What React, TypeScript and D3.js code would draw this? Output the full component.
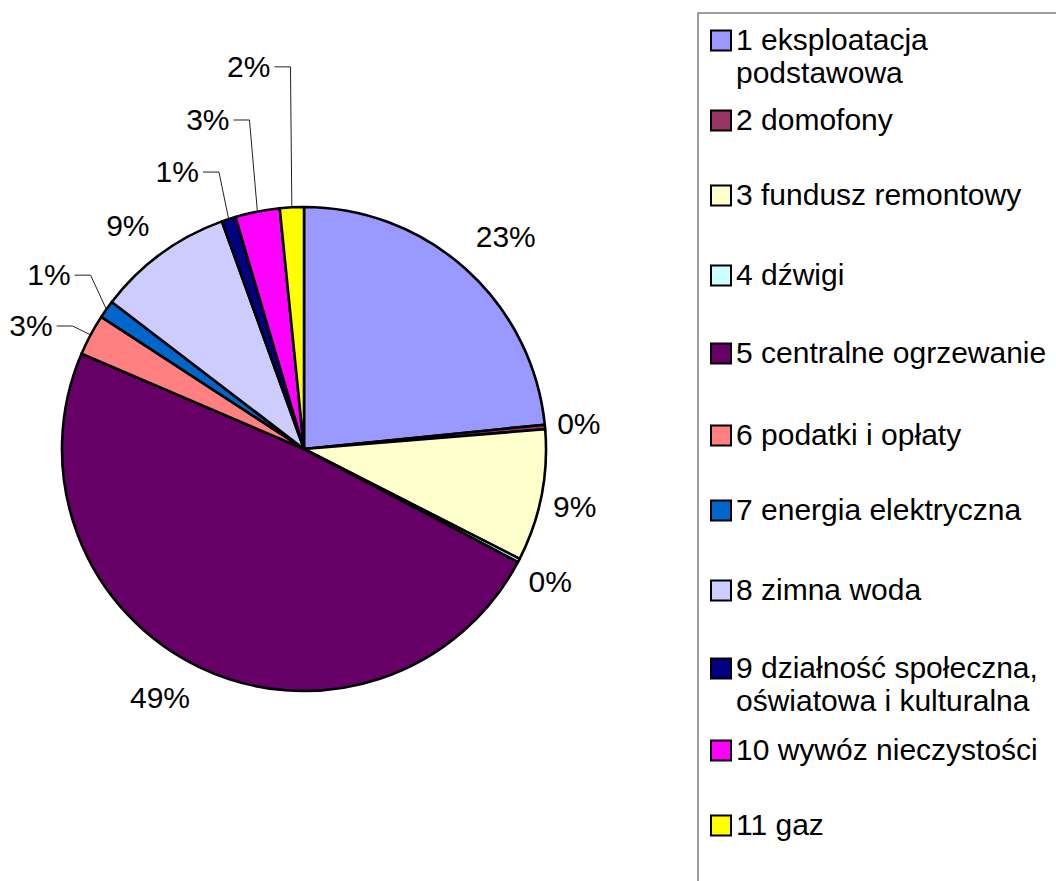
import * as d3 from 'd3';

// Cost shares (percent), clockwise from 12 o'clock
const categories = [
  '1 eksploatacja podstawowa',
  '2 domofony',
  '3 fundusz remontowy',
  '4 dźwigi',
  '5 centralne ogrzewanie',
  '6 podatki i opłaty',
  '7 energia elektryczna',
  '8 zimna woda',
  '9 działność społeczna, oświatowa i kulturalna',
  '10 wywóz nieczystości',
  '11 gaz',
];
const shares = [23.4, 0.3, 8.8, 0.25, 48.7, 2.75, 1.2, 9.1, 0.94, 2.97, 1.6];
const colors = [
  '#9999ff', '#993366', '#ffffcc', '#ccffff', '#660066', '#ff8080',
  '#0066cc', '#ccccff', '#000080', '#ff00ff', '#ffff00',
];
// legend lines (wrapped as in the original)
const legendLines = [
  ['1 eksploatacja', 'podstawowa'],
  ['2 domofony'],
  ['3 fundusz remontowy'],
  ['4 dźwigi'],
  ['5 centralne ogrzewanie'],
  ['6 podatki i opłaty'],
  ['7 energia elektryczna'],
  ['8 zimna woda'],
  ['9 działność społeczna,', 'oświatowa i kulturalna'],
  ['10 wywóz nieczystości'],
  ['11 gaz'],
];

// layout
const W = 1056;
const H = 881;
const cx = 304;
const cy = 449;
const radius = 242;
const labelRadius = 283;
const font = '"Liberation Sans", Arial, sans-serif';
const fontSize = 30;
// label nudges from the label-radius centroid, and which labels use a leader
const labelNudge: [number, number][] = [
  [12, -3], [-7, 0], [-7, 3], [-5, 2], [-22, -7], [-23.5, 10],
  [-24, -11], [-9, 5], [-38.6, -8.5], [-41.7, -51.8], [-41, -100],
];
const hasLeader = [false, false, false, false, false, true, true, false, true, true, true];
const legendBaselines = [50, 130, 205, 285, 363, 445, 520, 600, 678, 760, 835];

export default function App() {
  const pie = d3.pie<number>().sort(null).value(d => d);
  const arcs = pie(shares);
  const arc = d3.arc<d3.PieArcDatum<number>>().innerRadius(0).outerRadius(radius);
  const total = d3.sum(shares);

  const polar = (a: number, r: number): [number, number] => [
    Math.sin(a) * r,
    -Math.cos(a) * r,
  ];

  return (
    <svg
      width={W}
      height={H}
      style={{ position: 'absolute', left: 0, top: 0, background: '#fff' }}
      fontFamily={font}
    >
      <g transform={`translate(${cx},${cy})`}>
        {arcs.map((a, i) => (
          <path
            key={i}
            d={arc(a) || ''}
            fill={colors[i]}
            stroke="#000"
            strokeWidth={2.6}
            strokeLinejoin="round"
          />
        ))}
        {arcs.map((a, i) => {
          const mid = (a.startAngle + a.endAngle) / 2;
          const [lx, ly] = polar(mid, labelRadius);
          const x = lx + labelNudge[i][0];
          const base = ly + 10.5 + labelNudge[i][1];
          const txt = `${Math.round((shares[i] / total) * 100)}%`;
          let leader = null;
          if (hasLeader[i]) {
            const [ex, ey] = polar(mid, radius);
            const x0 = x + (txt.length === 2 ? 1.445 : 2.0) * fontSize / 2 + 4;
            const y0 = base - 10;
            leader = (
              <polyline
                points={`${x0},${y0} ${x0 + 16},${y0} ${ex},${ey}`}
                fill="none"
                stroke="#222"
                strokeWidth={1}
              />
            );
          }
          return (
            <g key={i}>
              {leader}
              <text x={x} y={base} textAnchor="middle" fontSize={fontSize} fill="#000">
                {txt}
              </text>
            </g>
          );
        })}
      </g>

      <rect x={698} y={13} width={420} height={900} fill="#fff" stroke="#808080" strokeWidth={1.5} />
      {categories.map((c, i) => (
        <g key={c}>
          <rect
            x={711}
            y={legendBaselines[i] - 19.5}
            width={20}
            height={20}
            fill={colors[i]}
            stroke="#000"
            strokeWidth={2}
          />
          {legendLines[i].map((line, j) => (
            <text key={j} x={736} y={legendBaselines[i] + j * 33} fontSize={fontSize} fill="#000">
              {line}
            </text>
          ))}
        </g>
      ))}
    </svg>
  );
}
